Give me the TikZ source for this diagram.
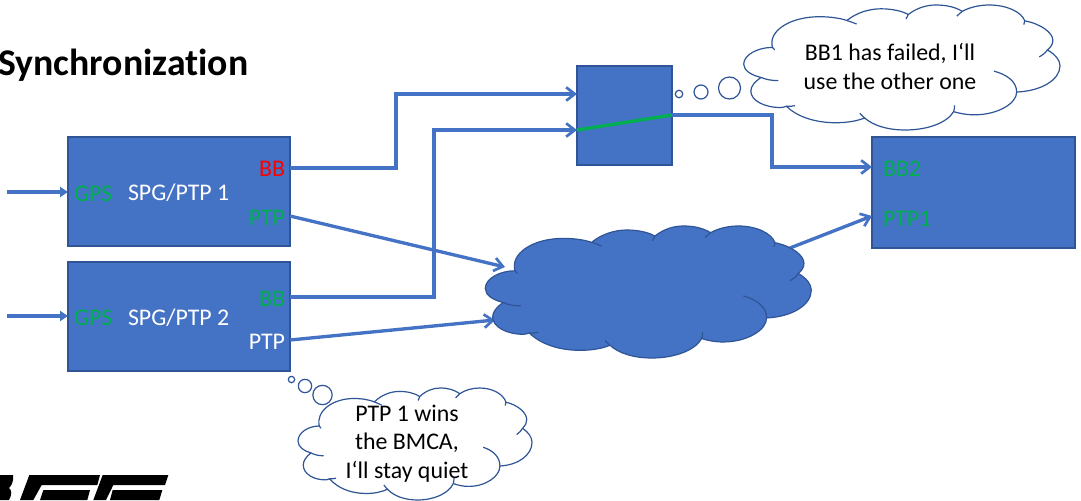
\documentclass[tikz,border=0pt]{standalone}
\usepackage{fontspec}
\setmainfont{Carlito}[Ligatures=NoCommon]
\usetikzlibrary{arrows.meta}
\definecolor{pblue}{HTML}{4472C4}
\definecolor{pedge}{HTML}{2F5597}
\definecolor{pgreen}{HTML}{00B050}
\definecolor{pred}{HTML}{FF0000}
\newcommand{\lobeoutline}{(135,182) .. controls (120,130) and (190,85) .. (280,85) .. controls (315,85) and (345,90) .. (365,97)
 .. controls (395,72) and (435,60) .. (470,60) .. controls (505,60) and (535,67) .. (555,78)
 .. controls (580,58) and (610,48) .. (640,48) .. controls (675,48) and (700,55) .. (722,68)
 .. controls (745,55) and (775,48) .. (805,48) .. controls (860,48) and (905,70) .. (915,98)
 .. controls (965,108) and (1002,135) .. (1002,160) .. controls (1002,172) and (995,182) .. (985,190)
 .. controls (1010,205) and (1024,222) .. (1024,240) .. controls (1024,285) and (965,320) .. (890,323)
 .. controls (890,360) and (830,395) .. (760,395) .. controls (735,395) and (715,391) .. (695,385)
 .. controls (675,420) and (615,443) .. (545,443) .. controls (490,443) and (445,428) .. (420,405)
 .. controls (395,415) and (365,420) .. (330,420) .. controls (265,420) and (210,400) .. (178,368)
 .. controls (170,371) and (165,372) .. (160,372) .. controls (110,372) and (68,350) .. (68,320) .. controls (68,305) and (80,290) .. (100,277)
 .. controls (70,270) and (46,255) .. (46,235) .. controls (46,205) and (90,182) .. (135,182) -- cycle}
\newcommand{\lobeticks}{(135,182) .. controls (136,185) and (138,188) .. (142,190)
 (365,97) .. controls (375,100) and (385,104) .. (395,108)
 (548,92) .. controls (550,87) and (552,82) .. (555,78)
 (705,83) .. controls (710,78) and (716,73) .. (722,68)
 (912,110) .. controls (914,106) and (915,102) .. (915,98)
 (985,190) .. controls (980,198) and (970,206) .. (960,212)
 (820,257) .. controls (860,268) and (890,290) .. (890,323)
 (698,365) .. controls (698,372) and (697,379) .. (695,385)
 (405,390) .. controls (410,396) and (415,401) .. (420,405)
 (178,368) .. controls (187,369) and (196,368) .. (205,366)
 (100,277) .. controls (115,284) and (135,287) .. (153,287)}
% #1 x0, #2 y0, #3 width, #4 height, #5 fill
\newcommand{\cloudat}[5]{%
 \begin{scope}[shift={(#1,#2)},xscale=#3/978,yscale=#4/395,shift={(-46,-48)}]
  \path[fill=#5,draw=pedge,line width=0.9pt,line join=round] \lobeoutline;
  \path[draw=pedge,line width=0.9pt] \lobeticks;
 \end{scope}}
\tikzset{
 x=0.75pt,y=-0.75pt,
 bluebox/.style={draw=pedge,fill=pblue,line width=1pt,inner sep=0pt,outer sep=0pt},
 lbl/.style={font=\fontsize{17.9pt}{21pt}\selectfont,inner sep=0pt,outer sep=0pt},
 wire/.style={draw=pblue,line width=2.5pt,line join=miter},
 barb/.style={wire,-{Straight Barb[length=6.5pt,width=10pt,line width=2pt]}},
 orthobarb/.style={barb,line width=3pt},
 solidtip/.style={wire,line width=3pt,-{Triangle[length=6pt,width=7.5pt]}},
 bubble/.style={circle,draw=pedge,fill=white,line width=0.9pt,inner sep=0pt,outer sep=0pt},
 saying/.style={font=\fontsize{17.9pt}{21.3pt}\selectfont,align=center,inner sep=0pt,outer sep=0pt,text=black},
}
\begin{document}
\begin{tikzpicture}
\useasboundingbox (0,0) rectangle (1081,500);
\clip (0,0) rectangle (1081,500);
\fill[white] (0,0) rectangle (1081,500);

\node[anchor=base west,font=\bfseries\fontsize{28.3pt}{32pt}\selectfont,inner sep=0pt] (title) at (-2,75) {Synchronization};

% logo
\fill[black] (88/3,475) -- (300/3,475) -- (292/3,485) -- (130/3,485) -- (125/3,485) -- (100/3,500) -- (60/3,500) -- cycle;
\fill[black] (130/3,490) -- (270/3,490) -- (262/3,500) -- (120/3,500) -- cycle;
\fill[black] (308/3,475) -- (505/3,475) -- (495/3,485) -- (340/3,485) -- (318/3,500) -- (280/3,500) -- cycle;
\fill[black] (338/3,490) -- (487/3,490) -- (478/3,500) -- (330/3,500) -- cycle;
\fill[black] (0,475) -- (13,475) .. controls (14,482) and (11,486) .. (9,488) .. controls (12,490) and (12,495) .. (9,500) -- (0,500) -- cycle;

% boxes
\node[bluebox,minimum width=166.5pt,minimum height=81.75pt] (spg1) at (179,191.5) {};
\node[bluebox,minimum width=166.5pt,minimum height=81.75pt] (spg2) at (179,316.5) {};
\node[bluebox,minimum width=71.25pt,minimum height=74.25pt] (sw) at (624.5,115.5) {};
\node[bluebox,minimum width=152.25pt,minimum height=83.25pt] (rx) at (973.5,192.5) {};

% ports and free ends
\coordinate (gps1in) at (7,192);
\coordinate (gps2in) at (7,316);
\coordinate (gps1) at (68,192);
\coordinate (gps2) at (68,316);
\coordinate (s1bb) at (290,168);
\coordinate (s1ptp) at (290,216);
\coordinate (s2bb) at (290,297);
\coordinate (s2ptp) at (290,340);
\coordinate (swa) at (577,94);
\coordinate (swb) at (577,130);
\coordinate (swout) at (672,115);
\coordinate (rxbb) at (872,167);
\coordinate (rxptp) at (872,216);
\coordinate (bend1) at (396,130);
\coordinate (bend2) at (434,200);
\coordinate (bend3) at (772,140);
\coordinate (netin1) at (505,267);
\coordinate (netin2) at (495,320);
\coordinate (netout) at (790,248);

% connectors
\draw[solidtip] (gps1in) -- (gps1);
\draw[solidtip] (gps2in) -- (gps2);
\draw[orthobarb] (s1bb) -| (bend1) |- (swa);
\draw[orthobarb] (s2bb) -| (bend2) |- (swb);
\draw[orthobarb] (swout) -| (bend3) |- (rxbb);
\draw[barb] (s1ptp) -- (netin1);
\draw[barb] (s2ptp) -- (netin2);
\draw[barb] (netout) -- (rxptp);
\draw[draw=pgreen,line width=2.5pt] (swb) -- (swout);

% clouds
\cloudat{485.3}{226}{326}{132}{pblue}
\cloudat{743.7}{5}{316.3}{125}{white}
\cloudat{298}{388}{234}{112}{white}

% thought bubbles
\node[bubble,minimum size=5.6pt] (b1) at (679,94) {};
\node[bubble,minimum size=10.5pt] (b2) at (701,92) {};
\node[bubble,minimum size=16.5pt] (b3) at (729.5,88) {};
\node[bubble,minimum size=4.8pt] (c1) at (291.5,379.5) {};
\node[bubble,minimum size=10pt] (c2) at (305,386) {};
\node[bubble,minimum size=14.5pt] (c3) at (322.5,395) {};

% labels
\node[lbl,anchor=base west,text=pgreen] (g1) at (74,201) {GPS};
\node[lbl,anchor=base west,text=pgreen] (g2) at (74,325) {GPS};
\node[lbl,anchor=base west,text=white] (n1) at (128,200) {SPG/PTP 1};
\node[lbl,anchor=base west,text=white] (n2) at (128,325) {SPG/PTP 2};
\node[lbl,anchor=base east,text=pred] (l1) at (285,176) {BB};
\node[lbl,anchor=base east,text=pgreen] (l2) at (285,225) {PTP};
\node[lbl,anchor=base east,text=pgreen] (l3) at (285,306) {BB};
\node[lbl,anchor=base east,text=white] (l4) at (285,349) {PTP};
\node[lbl,anchor=base west,text=pgreen] (l5) at (883,176) {BB2};
\node[lbl,anchor=base west,text=pgreen] (l6) at (883,226) {PTP1};
\node[saying] (say1) at (890,66.5) {BB1 has failed, I‘ll\\use the other one};
\node[saying] (say2) at (407,443.5) {PTP 1 wins\\the BMCA,\\I‘ll stay quiet};
\end{tikzpicture}
\end{document}
